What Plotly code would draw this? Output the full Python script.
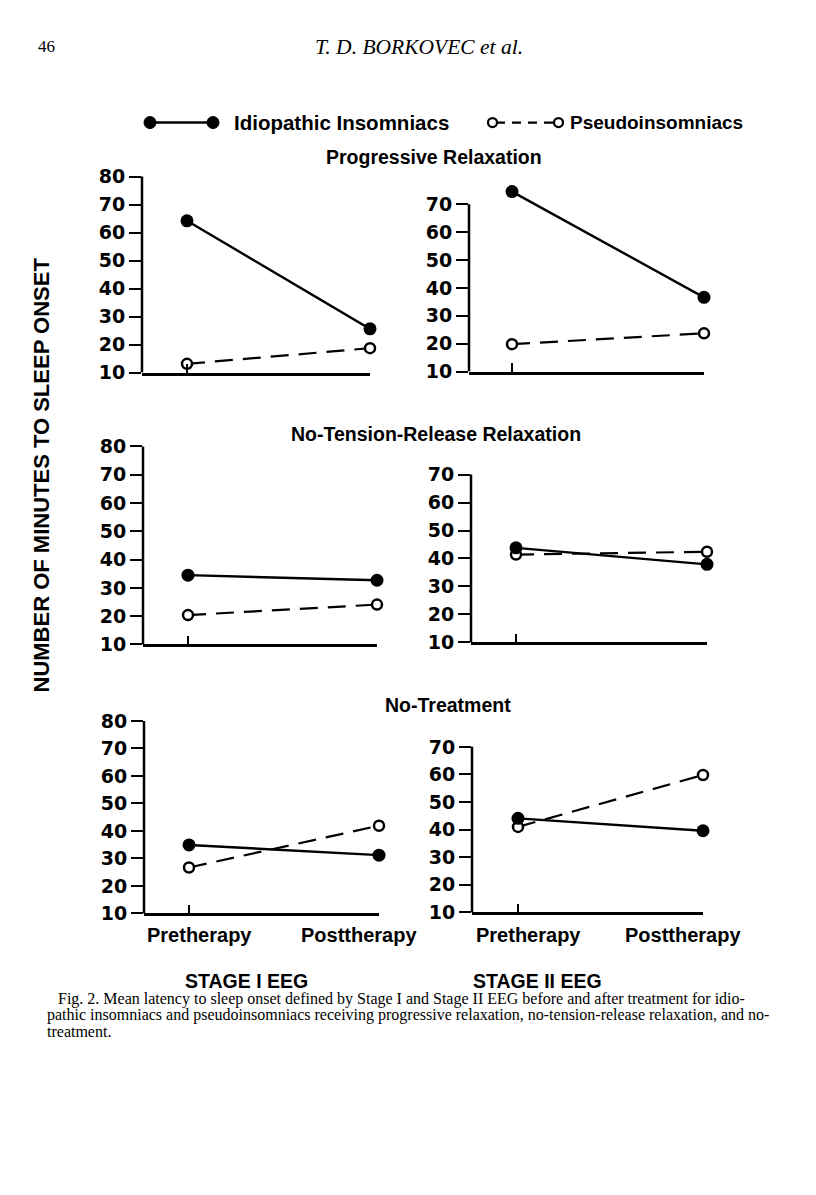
import plotly.graph_objects as go

W, H = 816, 1195          # browser window
OFF = 8                   # default body margin of the page
FW, FH = W - 2 * OFF, H - 2 * OFF - 30   # keep the page from overflowing the window
VS, VA = 0.988, 1.5       # measured vertical scale/offset of the photographed page

# ---------------- data ----------------
phases = ["Pretherapy", "Posttherapy"]
conditions = ["Progressive Relaxation", "No-Tension-Release Relaxation", "No-Treatment"]
stages = ["STAGE I EEG", "STAGE II EEG"]
series_names = ["Idiopathic Insomniacs", "Pseudoinsomniacs"]

# mean minutes to sleep onset, [condition] -> [pre, post]
idio_stage1 = [[64.2, 25.6], [34.5, 32.7], [34.9, 31.2]]
idio_stage2 = [[74.5, 36.6], [43.8, 37.9], [44.1, 39.6]]
pseudo_stage1 = [[13.1, 18.7], [20.4, 24.1], [26.7, 41.9]]
pseudo_stage2 = [[19.8, 23.7], [41.4, 42.4], [41.0, 59.8]]

y_top_ticks = [80, 70]          # top tick of stage I / stage II axes
y_bottom_tick = 10

# ---------------- geometry (page pixels) ----------------
geom = {
    (0, 0): dict(xL=142, xP=187, xR=370, y10=371, k=2.80),
    (0, 1): dict(xL=469, xP=512, xR=704, y10=370, k=2.79),
    (1, 0): dict(xL=143, xP=188, xR=377, y10=643, k=2.83),
    (1, 1): dict(xL=471, xP=516, xR=707, y10=641, k=2.80),
    (2, 0): dict(xL=144, xP=189, xR=379, y10=912, k=2.75),
    (2, 1): dict(xL=472, xP=518, xR=703, y10=911, k=2.76),
}

def px(x):
    return (x - OFF) / FW

def py(y):
    y = (y - VA) / VS
    return 1 - (y - OFF) / FH

fig = go.Figure()
layout = dict(shapes=[], annotations=[])

TICKFONT = dict(family="DejaVu Sans", size=19, color="black", weight="bold")
SANS = "Liberation Sans"
SERIF = "Liberation Serif"
PAD = 2  # annotation inner padding

idx = 0
for r in range(3):
    for c in range(2):
        idx += 1
        g = geom[(r, c)]
        idio = (idio_stage1 if c == 0 else idio_stage2)[r]
        pseudo = (pseudo_stage1 if c == 0 else pseudo_stage2)[r]
        top = y_top_ticks[c]
        ymax = max(top, max(idio), max(pseudo)) + 3
        ytop_px = g["y10"] - g["k"] * (ymax - y_bottom_tick)
        xa = "x" if idx == 1 else f"x{idx}"
        ya = "y" if idx == 1 else f"y{idx}"
        xkey = "xaxis" if idx == 1 else f"xaxis{idx}"
        ykey = "yaxis" if idx == 1 else f"yaxis{idx}"
        left = -(g["xP"] - g["xL"]) / (g["xR"] - g["xP"])

        layout[xkey] = dict(
            domain=[px(g["xL"]), px(g["xR"])], anchor=ya,
            type="category", categoryorder="array", categoryarray=phases,
            range=[left, 1], showline=True, linecolor="black", linewidth=2.5,
            ticks="inside", ticklen=9, tickwidth=2, tickcolor="black",
            showticklabels=False, showgrid=False, zeroline=False, fixedrange=True,
        )
        tv = list(range(y_bottom_tick, top + 1, 10))
        layout[ykey] = dict(
            domain=[py(g["y10"]), py(ytop_px)], anchor=xa,
            range=[y_bottom_tick, ymax], showline=False,
            tickvals=tv, ticktext=[str(v) for v in tv],
            ticks="outside", ticklen=12, tickwidth=2, tickcolor="black",
            tickfont=TICKFONT, showgrid=False, zeroline=False, fixedrange=True,
        )
        layout["shapes"].append(dict(
            type="line", xref=f"{xa} domain", yref=ya, x0=0, x1=0,
            y0=y_bottom_tick, y1=top, line=dict(color="black", width=2.5),
        ))

        fig.add_trace(go.Scatter(
            x=phases, y=pseudo, xaxis=xa, yaxis=ya, mode="lines+markers",
            name=series_names[1], showlegend=False, cliponaxis=False,
            line=dict(color="black", width=2.2, dash="18px,10px"),
            marker=dict(symbol="circle", size=10, color="white",
                        line=dict(color="black", width=2.5)),
        ))
        fig.add_trace(go.Scatter(
            x=phases, y=idio, xaxis=xa, yaxis=ya, mode="lines+markers",
            name=series_names[0], showlegend=False, cliponaxis=False,
            line=dict(color="black", width=2.4),
            marker=dict(symbol="circle", size=13, color="black"),
        ))

        if r == 2:
            for j, ph in enumerate(phases):
                layout["annotations"].append(dict(
                    xref=xa, yref="paper", x=ph, y=py(934), xshift=(10 if j == 0 else -20),
                    text=f"<b>{ph}</b>", showarrow=False, xanchor="center", yanchor="middle",
                    font=dict(family=SANS, size=20, color="black"),
                ))

# condition titles
for name, (cx, cy) in zip(conditions, [(434, 155), (436, 432), (448, 704)]):
    layout["annotations"].append(dict(
        xref="paper", yref="paper", x=px(cx), y=py(cy), text=f"<b>{name}</b>",
        showarrow=False, xanchor="center", yanchor="middle",
        font=dict(family=SANS, size=19.5, color="black"),
    ))

# stage labels
for name, cx in zip(stages, [246, 537]):
    layout["annotations"].append(dict(
        xref="paper", yref="paper", x=px(cx), y=py(980), text=f"<b>{name}</b>",
        showarrow=False, xanchor="center", yanchor="middle",
        font=dict(family=SANS, size=19.5, color="black"),
    ))

# y title
layout["annotations"].append(dict(
    xref="paper", yref="paper", x=px(42), y=py(474),
    text="<b>NUMBER OF MINUTES TO SLEEP ONSET</b>", textangle=-90,
    showarrow=False, xanchor="center", yanchor="middle",
    font=dict(family=SANS, size=22, color="black"),
))

# legend (drawn)
ly = 121
layout["shapes"] += [
    dict(type="line", xref="paper", yref="paper", x0=px(150), x1=px(213), y0=py(ly), y1=py(ly),
         line=dict(color="black", width=2.5)),
    dict(type="circle", xref="paper", yref="paper", x0=px(144), x1=px(156), y0=py(ly - 6), y1=py(ly + 6),
         fillcolor="black", line=dict(color="black", width=1)),
    dict(type="circle", xref="paper", yref="paper", x0=px(207), x1=px(219), y0=py(ly - 6), y1=py(ly + 6),
         fillcolor="black", line=dict(color="black", width=1)),
    dict(type="line", xref="paper", yref="paper", x0=px(496), x1=px(554), y0=py(ly), y1=py(ly),
         line=dict(color="black", width=2.2, dash="9px,7px")),
    dict(type="circle", xref="paper", yref="paper", x0=px(488), x1=px(497), y0=py(ly - 4.5), y1=py(ly + 4.5),
         fillcolor="white", line=dict(color="black", width=2.2)),
    dict(type="circle", xref="paper", yref="paper", x0=px(554), x1=px(563), y0=py(ly - 4.5), y1=py(ly + 4.5),
         fillcolor="white", line=dict(color="black", width=2.2)),
]
layout["annotations"] += [
    dict(xref="paper", yref="paper", x=px(234 - PAD), y=py(ly), text=f"<b>{series_names[0]}</b>",
         showarrow=False, xanchor="left", yanchor="middle",
         font=dict(family=SANS, size=20.5, color="black")),
    dict(xref="paper", yref="paper", x=px(570 - PAD), y=py(ly), text=f"<b>{series_names[1]}</b>",
         showarrow=False, xanchor="left", yanchor="middle",
         font=dict(family=SANS, size=19, color="black")),
]

# page header
layout["annotations"] += [
    dict(xref="paper", yref="paper", x=px(38 - PAD), y=py(45), text="46", showarrow=False,
         xanchor="left", yanchor="middle", font=dict(family=SERIF, size=17, color="black")),
    dict(xref="paper", yref="paper", x=px(419), y=py(45), text="<i>T. D. BORKOVEC et al.</i>",
         showarrow=False, xanchor="center", yanchor="middle",
         font=dict(family=SERIF, size=21.5, color="black")),
]

# caption
caption = [
    "Fig. 2. Mean latency to sleep onset defined by Stage I and Stage II EEG before and after treatment for idio-",
    "pathic insomniacs and pseudoinsomniacs receiving progressive relaxation, no-tension-release relaxation, and no-",
    "treatment.",
]
for i, line in enumerate(caption):
    layout["annotations"].append(dict(
        xref="paper", yref="paper", x=px((58 if i == 0 else 47) - PAD), y=py(998 + 16 * i), text=line,
        showarrow=False, xanchor="left", yanchor="middle",
        font=dict(family=SERIF, size=16, color="black"),
    ))

fig.update_layout(
    width=FW, height=FH, margin=dict(l=0, r=0, t=0, b=0),
    paper_bgcolor="white", plot_bgcolor="white", showlegend=False,
    **layout,
)

fig.write_html("out.html")
